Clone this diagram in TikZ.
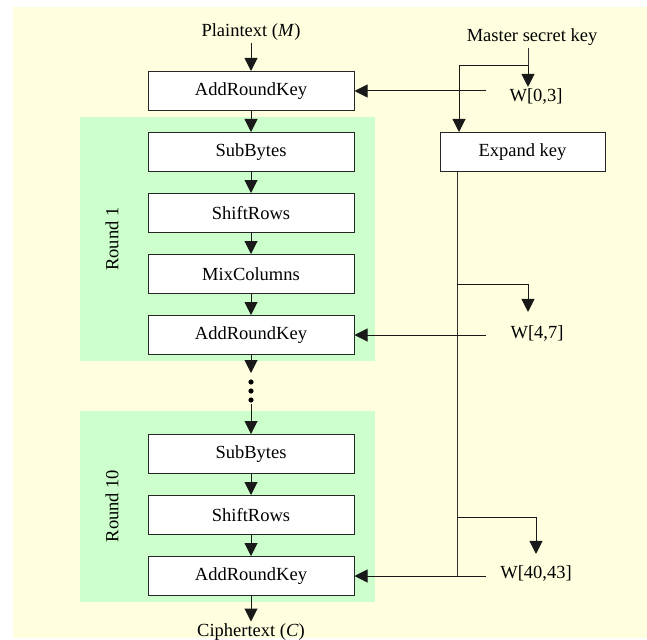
\documentclass[tikz,border=0pt]{standalone}
\usepackage{fontspec}
\setmainfont{Liberation Serif}
\usetikzlibrary{positioning,arrows.meta}
\definecolor{paperyellow}{RGB}{255,255,224}
\definecolor{roundgreen}{RGB}{204,255,204}
\tikzset{stagebox/.style={rectangle, draw=black!85, fill=white, line width=1pt,
  minimum width=206pt, minimum height=39pt, inner sep=0pt}}
\tikzset{flow/.style={-{Triangle[length=13pt,width=13pt]}, line width=1pt, draw=black!90}}
\tikzset{keyline/.style={line width=1pt, draw=black!80}}

\begin{document}
\begin{tikzpicture}[x=1pt,y=-1pt,inner sep=2pt,font=\fontsize{18.5}{22}\selectfont]
  \useasboundingbox (0,0) rectangle (647,639);
  % backgrounds
  \fill[paperyellow] (13,7) rectangle (647,638);
  \fill[roundgreen] (80,117) rectangle (375,361);
  \fill[roundgreen] (80,411) rectangle (375,602);

  % main chain
  \node[stagebox] (ark0) at (251,91) {AddRoundKey};
  \node[above=28pt of ark0] (plain) {Plaintext (\textit{M})};
  \node[stagebox, below=21pt of ark0] (sub1) {SubBytes};
  \node[stagebox, below=21pt of sub1] (shift1) {ShiftRows};
  \node[stagebox, below=21pt of shift1] (mix1) {MixColumns};
  \node[stagebox, below=21pt of mix1] (ark1) {AddRoundKey};
  \node[stagebox, below=79pt of ark1] (sub10) {SubBytes};
  \node[stagebox, below=21pt of sub10] (shift10) {ShiftRows};
  \node[stagebox, below=21pt of shift10] (ark10) {AddRoundKey};
  \node[below=25.5pt of ark10] (cipher) {Ciphertext (\textit{C})};
  \node[rotate=90] (round1) at (112,239) {Round 1};
  \node[rotate=90] (round10) at (112,506) {Round 10};

  % key schedule
  \node[stagebox, minimum width=165pt, right=85pt of sub1] (expand) {Expand key};
  \node (master) at (532,37) {Master secret key};
  \node (w03) at (536,97) {W[0,3]};
  \node (w47) at (537,334) {W[4,7]};
  \node (w4043) at (536,573) {W[40,43]};
  \coordinate (split) at (528,66);
  \coordinate (kin) at (459,66);
  \coordinate (bus) at (457,0);
  \coordinate (feed) at (486,0);
  \coordinate (tap1) at (528,284);
  \coordinate (tap10) at (536,517);
  \coordinate (gapA) at (251,373);
  \coordinate (gapB) at (251,404);

  \draw[flow] (plain) -- (ark0);
  \draw[flow] (ark0) -- (sub1);
  \draw[flow] (sub1) -- (shift1);
  \draw[flow] (shift1) -- (mix1);
  \draw[flow] (mix1) -- (ark1);
  \draw[flow] (ark1) -- (gapA);
  \foreach \y in {382,391,400}
    \fill (251,\y) circle (2.6pt);
  \draw[flow] (gapB) -- (sub10);
  \draw[flow] (sub10) -- (shift10);
  \draw[flow] (shift10) -- (ark10);
  \draw[flow] (ark10) -- (cipher);

  \draw[keyline] (master.south -| split) -- (split);
  \draw[flow] (split) -- (split |- w03.north);
  \draw[flow] (split) -- (kin) -- (kin |- expand.north);
  \draw[keyline] (expand.south -| bus) -- (bus |- ark10.east);
  \draw[flow, shorten >=12pt] (bus |- tap1) -| (w47.north -| tap1);
  \draw[flow, shorten >=9pt] (bus |- tap10) -| (w4043.north);
  \draw[flow] (feed |- ark0.east) -- (ark0.east);
  \draw[flow] (feed |- ark1.east) -- (ark1.east);
  \draw[flow] (feed |- ark10.east) -- (ark10.east);
\end{tikzpicture}
\end{document}
